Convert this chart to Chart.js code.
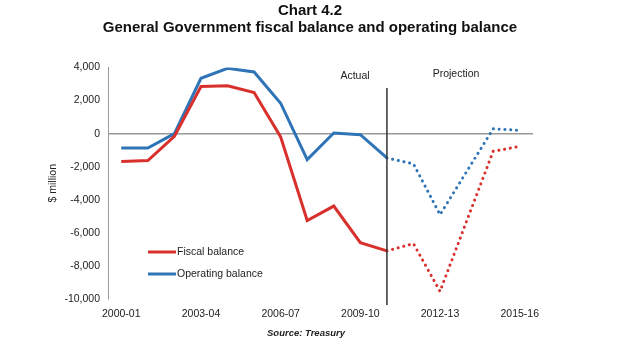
<!DOCTYPE html>
<html>
<head>
<meta charset="utf-8">
<script src="https://cdn.jsdelivr.net/npm/chart.js@4/dist/chart.umd.min.js"></script>
<style>
  html, body { margin: 0; padding: 0; background: #fff; }
  #wrap { width: 620px; height: 349px; }
</style>
</head>
<body>
<div id="wrap"><canvas id="balanceChart"></canvas></div>
<script>
const years = ['2000-01', '2001-02', '2002-03', '2003-04', '2004-05', '2005-06', '2006-07', '2007-08',
               '2008-09', '2009-10', '2010-11', '2011-12', '2012-13', '2013-14', '2014-15', '2015-16'];
const fiscalBalance = [-1690, -1630, -160, 2850, 2890, 2490, -200, -5250, -4380, -6590, -7090, -6650, -9540, -5300, -1070, -770];
const operatingBalance = [-870, -870, 0, 3350, 3950, 3730, 1840, -1570, 40, -60, -1470, -1830, -4900, -2300, 290, 200];
const yTicks = [-10000, -8000, -6000, -4000, -2000, 0, 2000, 4000];
const projectionStart = 10; // 2010-11 onwards is projected

const RED = '#d8302d';
const BLUE = '#2e74b6';
const FONT = '"Liberation Sans", Arial, sans-serif';

// dotted line for the projected years
const projSegment = {
    borderDash: ctx => ctx.p0DataIndex >= projectionStart ? [0.1, 5.7] : undefined,
    borderCapStyle: ctx => ctx.p0DataIndex >= projectionStart ? 'round' : 'butt'
};

const extras = {
    id: 'extras',
    afterDatasetsDraw(chart) {
        const ctx = chart.ctx;
        const x = chart.scales.x;
        ctx.save();
        // actual / projection divider
        const xd = x.getPixelForValue(projectionStart);
        ctx.strokeStyle = '#333';
        ctx.lineWidth = 1.5;
        ctx.beginPath();
        ctx.moveTo(xd, 88);
        ctx.lineTo(xd, 305);
        ctx.stroke();

        ctx.fillStyle = '#222';
        ctx.textAlign = 'center';
        ctx.textBaseline = 'middle';
        ctx.font = '10.5px ' + FONT;
        ctx.fillText('Actual', 355, 76);
        ctx.fillText('Projection', 456, 74);

        // legend
        const items = [['Fiscal balance', RED, 252], ['Operating balance', BLUE, 274]];
        items.forEach(([text, color, y]) => {
            ctx.strokeStyle = color;
            ctx.lineWidth = 3;
            ctx.beginPath();
            ctx.moveTo(148, y);
            ctx.lineTo(176, y);
            ctx.stroke();
            ctx.textAlign = 'left';
            ctx.fillText(text, 177, y);
        });

        ctx.textAlign = 'center';
        ctx.font = 'italic bold 9.5px ' + FONT;
        ctx.fillText('Source: Treasury', 306, 333);
        ctx.restore();
    }
};

new Chart(document.getElementById('balanceChart'), {
    type: 'line',
    data: {
        labels: years,
        datasets: [{
            label: 'Fiscal balance',
            data: fiscalBalance,
            borderColor: RED,
            borderWidth: 3,
            pointRadius: 0,
            tension: 0,
            segment: projSegment
        }, {
            label: 'Operating balance',
            data: operatingBalance,
            borderColor: BLUE,
            borderWidth: 3,
            pointRadius: 0,
            tension: 0,
            segment: projSegment
        }]
    },
    options: {
        responsive: true,
        maintainAspectRatio: false,
        animation: false,
        layout: { padding: { left: 40, right: 40, top: 2, bottom: 20 } },
        plugins: {
            legend: { display: false },
            tooltip: { enabled: false },
            title: {
                display: true,
                text: ['Chart 4.2', 'General Government fiscal balance and operating balance'],
                color: '#111',
                font: { family: FONT, size: 15, weight: 'bold', lineHeight: 1.15 },
                padding: { top: 0, bottom: 31 }
            }
        },
        scales: {
            x: {
                offset: true,
                grid: { display: false, drawTicks: false },
                border: { display: false },
                ticks: {
                    autoSkip: false,
                    maxRotation: 0,
                    padding: 9,
                    color: '#222',
                    font: { family: FONT, size: 10.5 },
                    callback: (v, i) => i % 3 === 0 ? years[i] : ''
                },
                afterFit: s => { s.height = 30; }
            },
            y: {
                min: -10000,
                max: 4000,
                afterBuildTicks: s => { s.ticks = yTicks.map(v => ({ value: v })); },
                border: { display: true, color: '#999', width: 1 },
                grid: {
                    drawTicks: false,
                    color: c => c.tick && c.tick.value === 0 ? '#999' : 'rgba(0,0,0,0)',
                    lineWidth: 1.5
                },
                ticks: {
                    padding: 8,
                    color: '#222',
                    font: { family: FONT, size: 10.5 },
                    callback: v => v.toLocaleString('en-US')
                },
                title: {
                    display: true,
                    text: '$ million',
                    color: '#222',
                    font: { family: FONT, size: 10.5 },
                    padding: { top: 7, bottom: 0 }
                },
                afterFit: s => { s.width = 68; }
            },
            // empty right-hand gutter so the title stays centred on the page
            gutter: {
                position: 'right',
                grid: { display: false },
                border: { display: false },
                ticks: { display: false },
                afterFit: s => { s.width = 47; }
            }
        }
    },
    plugins: [extras]
});
</script>
</body>
</html>
